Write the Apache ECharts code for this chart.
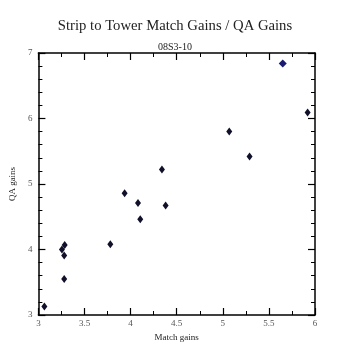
<!DOCTYPE html>
<html><head><meta charset="utf-8">
<script src="https://cdn.jsdelivr.net/npm/echarts@6/dist/echarts.min.js"></script>
<style>html,body{margin:0;padding:0;background:#fff}#c{width:350px;height:350px}</style>
</head><body><div id="c"></div>
<script>
var titleText = "Strip to Tower Match Gains / QA Gains";
var subtitleText = "08S3-10";
var xName = "Match gains";
var yName = "QA gains";
var matchGains = [3.065, 3.255, 3.285, 3.28, 3.28, 3.78, 3.935, 4.08, 4.105, 4.34, 4.38, 5.07, 5.29, 5.92];
var qaGains    = [3.13, 4.00, 4.07, 3.91, 3.55, 4.08, 4.86, 4.71, 4.46, 5.22, 4.67, 5.80, 5.42, 6.09];
var highlightX = [5.65];
var highlightY = [6.84];
var xTicks = [3, 3.5, 4, 4.5, 5, 5.5, 6];
var yTicks = [3, 4, 5, 6, 7];

var pts = matchGains.map(function(x, i){ return [x, qaGains[i]]; });
var hpts = highlightX.map(function(x, i){ return [x, highlightY[i]]; });
var font = "Liberation Serif";
var axisLine = {show: true, lineStyle: {color: '#000', width: 1.5}};
function xa(pos, labels){
  return {type: 'value', position: pos, min: 3, max: 6, interval: 0.5,
    axisLine: axisLine,
    axisTick: {show: true, inside: true, length: 7, lineStyle: {color: '#000', width: 1.2}},
    minorTick: {show: true, splitNumber: 2, length: 4, lineStyle: {color: '#000', width: 1}},
    splitLine: {show: false},
    axisLabel: {show: labels, fontFamily: font, fontSize: 9, color: '#555', margin: 4,
      formatter: function(v){ return xTicks.indexOf(v) >= 0 ? String(v) : ''; }},
    name: labels ? xName : '', nameLocation: 'middle', nameGap: 17,
    nameTextStyle: {fontFamily: font, fontSize: 9, color: '#222'}};
}
function ya(pos, labels){
  return {type: 'value', position: pos, min: 3, max: 7, interval: 1,
    axisLine: axisLine,
    axisTick: {show: true, inside: true, length: 7, lineStyle: {color: '#000', width: 1.2}},
    minorTick: {show: true, splitNumber: 5, length: 4, lineStyle: {color: '#000', width: 1}},
    splitLine: {show: false},
    axisLabel: {show: labels, fontFamily: font, fontSize: 9, color: '#555', margin: 6,
      formatter: function(v){ return yTicks.indexOf(v) >= 0 ? String(v) : ''; }},
    name: labels ? yName : '', nameLocation: 'middle', nameGap: 13,
    nameTextStyle: {fontFamily: font, fontSize: 9, color: '#222'}};
}
var chart = echarts.init(document.getElementById('c'), null, {renderer: 'canvas'});
chart.setOption({
  backgroundColor: '#fff',
  animation: false,
  title: [
    {text: titleText, left: 'center', top: 14, textStyle: {fontFamily: font, fontSize: 14.7, fontWeight: 'normal', color: '#222'}},
    {text: subtitleText, left: 'center', top: 37, textStyle: {fontFamily: font, fontSize: 10, fontWeight: 'normal', color: '#222'}}
  ],
  grid: {left: 35, right: 35, top: 53, bottom: 35, containLabel: false},
  xAxis: [xa('bottom', true), xa('top', false)],
  yAxis: [ya('left', true), ya('right', false)],
  series: [
    {type: 'scatter', xAxisIndex: 0, yAxisIndex: 0, data: pts, symbol: 'diamond', symbolSize: [6, 8],
      itemStyle: {color: '#10102a', opacity: 1}},
    {type: 'scatter', xAxisIndex: 0, yAxisIndex: 0, data: hpts, symbol: 'diamond', symbolSize: [8, 8],
      itemStyle: {color: '#1a1a70', opacity: 1}}
  ]
});
</script></body></html>
